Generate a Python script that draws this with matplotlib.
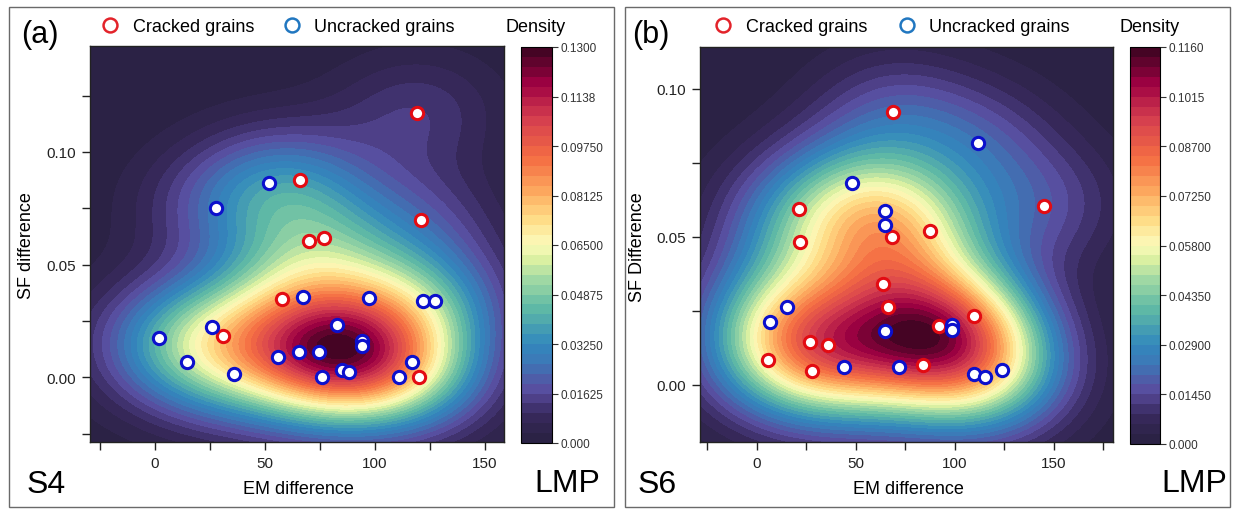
import numpy as np
import matplotlib
matplotlib.use("Agg")
import matplotlib.pyplot as plt
from matplotlib.colors import LinearSegmentedColormap
from matplotlib.lines import Line2D
from matplotlib.patches import Rectangle
from matplotlib.ticker import MultipleLocator

plt.rcParams['font.family'] = ['Liberation Sans', 'DejaVu Sans']

# ---------------- data ----------------
# Panel (a) S4
s4_cracked_em = [119.0, 65.9, 120.8, 69.9, 77.0, 57.7, 30.8, 119.9]
s4_cracked_sf = [0.1174, 0.0874, 0.0697, 0.0607, 0.0616, 0.0348, 0.0184, 0.0000]
s4_uncracked_em = [51.8, 27.7, 67.1, 97.1, 122.0, 127.3, 82.9, 25.9, 1.7, 94.0, 94.0,
                   65.6, 74.7, 55.8, 14.5, 116.8, 35.8, 85.0, 88.0, 76.0, 110.9]
s4_uncracked_sf = [0.0862, 0.0751, 0.0357, 0.0351, 0.0337, 0.0337, 0.0232, 0.0223, 0.0174,
                   0.0159, 0.0137, 0.0113, 0.0111, 0.0089, 0.0068, 0.0069, 0.0016, 0.0032,
                   0.0023, 0.0000, 0.0000]
s4_density_max = 0.13
s4_cbar_ticks = [0.0, 0.01625, 0.0325, 0.04875, 0.065, 0.08125, 0.0975, 0.11375, 0.13]
s4_cbar_labels = ["0.000", "0.01625", "0.03250", "0.04875", "0.06500", "0.08125",
                  "0.09750", "0.1138", "0.1300"]

# Panel (b) S6
s6_cracked_em = [68.8, 144.8, 21.4, 22.0, 87.4, 68.5, 63.6, 66.5, 109.6, 92.2, 26.9,
                 35.9, 5.7, 27.9, 84.0]
s6_cracked_sf = [0.0921, 0.0602, 0.0592, 0.0482, 0.0520, 0.0498, 0.0339, 0.0261, 0.0232,
                 0.0198, 0.0144, 0.0134, 0.0082, 0.0047, 0.0066]
s6_uncracked_em = [111.9, 48.1, 64.6, 64.6, 15.2, 6.9, 65.0, 98.8, 98.8, 44.1, 72.0,
                   109.6, 115.2, 123.7]
s6_uncracked_sf = [0.0815, 0.0682, 0.0588, 0.0538, 0.0262, 0.0213, 0.0181, 0.0203, 0.0186,
                   0.0060, 0.0060, 0.0035, 0.0025, 0.0051]
s6_density_max = 0.116
s6_cbar_ticks = [0.0, 0.0145, 0.029, 0.0435, 0.058, 0.0725, 0.087, 0.1015, 0.116]
s6_cbar_labels = ["0.000", "0.01450", "0.02900", "0.04350", "0.05800", "0.07250",
                  "0.08700", "0.1015", "0.1160"]

# ---------------- style ----------------
W, H = 1233, 510
fig = plt.figure(figsize=(W / 100, H / 100), dpi=100)

cmap = LinearSegmentedColormap.from_list("dens", [
    (0.00, "#292040"), (0.07, "#37295c"), (0.13, "#5a4b9e"), (0.21, "#3b7ab8"),
    (0.25, "#3288bd"), (0.34, "#5fb9a5"), (0.42, "#a6dba4"), (0.47, "#e3f3a2"),
    (0.50, "#fbfbbd"), (0.56, "#fee08b"), (0.63, "#fdae61"), (0.72, "#f46d43"),
    (0.82, "#d53e4f"), (0.91, "#9e0142"), (1.00, "#38051f")])

RED_PT, BLUE_PT = "#e30b12", "#0c10cc"
RED_LG, BLUE_LG = "#e3232a", "#2177c0"
BW_X, BW_Y = 1.35, 1.05


def px_rect(x0, y0, x1, y1):
    return [x0 / W, 1 - y1 / H, (x1 - x0) / W, (y1 - y0) / H]


def kde(xs, ys, gx, gy):
    xs = np.asarray(xs)
    ys = np.asarray(ys)
    n = len(xs)
    f = n ** (-1.0 / 6.0)
    hx = f * BW_X * xs.std(ddof=1)
    hy = f * BW_Y * ys.std(ddof=1)
    X, Y = np.meshgrid(gx, gy)
    dx = (X[..., None] - xs) / hx
    dy = (Y[..., None] - ys) / hy
    z = np.exp(-0.5 * (dx ** 2 + dy ** 2)).sum(axis=-1)
    return X, Y, z


def panel(frame, ax_rect, cax_rect, xlim, ylim, cem, csf, uem, usf, dmax, cticks, clabels,
          letter, sample, ylabel, letter_xy, sample_xy, lmp_xy, xlab_xy, ylab_xy,
          legend_xy, dens_xy, colspace):
    fig.patches.append(Rectangle((frame[0] / W, 1 - frame[3] / H),
                                 (frame[2] - frame[0]) / W, (frame[3] - frame[1]) / H,
                                 transform=fig.transFigure, fill=False,
                                 edgecolor="#6a6a6a", linewidth=1.0, zorder=0))
    ax = fig.add_axes(px_rect(*ax_rect))
    cax = fig.add_axes(px_rect(*cax_rect))

    allx = np.array(cem + uem)
    ally = np.array(csf + usf)
    gx = np.linspace(xlim[0], xlim[1], 300)
    gy = np.linspace(ylim[0], ylim[1], 300)
    X, Y, z = kde(allx, ally, gx, gy)
    z = z / z.max() * dmax * 0.999
    levels = np.linspace(0, dmax, 41)
    cf = ax.contourf(X, Y, z, levels=levels, cmap=cmap)

    ax.scatter(cem, csf, s=78, facecolor="white", edgecolor=RED_PT, linewidth=2.2, zorder=3)
    ax.scatter(uem, usf, s=78, facecolor="white", edgecolor=BLUE_PT, linewidth=2.2, zorder=3)

    ax.set_xlim(*xlim)
    ax.set_ylim(*ylim)
    ax.xaxis.set_major_locator(MultipleLocator(50))
    ax.xaxis.set_minor_locator(MultipleLocator(25))
    ax.yaxis.set_major_locator(MultipleLocator(0.05))
    ax.yaxis.set_minor_locator(MultipleLocator(0.025))
    ax.yaxis.set_major_formatter(matplotlib.ticker.FormatStrFormatter('%.2f'))
    ax.tick_params(which='both', direction='out', length=6, width=1.0, labelsize=11,
                   colors='#222222', pad=4)
    for sp in ax.spines.values():
        sp.set_linewidth(1.0)
        sp.set_color('#222222')

    cb = fig.colorbar(cf, cax=cax, ticks=cticks)
    cb.ax.set_yticklabels(clabels)
    cb.ax.tick_params(labelsize=8.5, length=4, width=0.8, colors='#333333', pad=2)
    cb.outline.set_linewidth(0.8)

    fig.text(letter_xy[0] / W, 1 - letter_xy[1] / H, letter, fontsize=22,
             ha='center', va='center')
    fig.text(sample_xy[0] / W, 1 - sample_xy[1] / H, sample, fontsize=23,
             ha='center', va='center')
    fig.text(lmp_xy[0] / W, 1 - lmp_xy[1] / H, "LMP", fontsize=23, ha='center', va='center')
    fig.text(xlab_xy[0] / W, 1 - xlab_xy[1] / H, "EM difference", fontsize=13,
             ha='center', va='center')
    fig.text(ylab_xy[0] / W, 1 - ylab_xy[1] / H, ylabel, fontsize=13, rotation=90,
             ha='center', va='center')
    fig.text(dens_xy[0] / W, 1 - dens_xy[1] / H, "Density", fontsize=13,
             ha='center', va='center')

    handles = [
        Line2D([], [], marker='o', ls='none', mfc='white', mec=RED_LG, mew=1.8, ms=10,
               label='Cracked grains'),
        Line2D([], [], marker='o', ls='none', mfc='white', mec=BLUE_LG, mew=1.8, ms=10,
               label='Uncracked grains'),
    ]
    fig.legend(handles=handles, loc='center left',
               bbox_to_anchor=(legend_xy[0] / W, 1 - legend_xy[1] / H),
               ncol=2, frameon=False, fontsize=13, handlelength=1.0,
               handletextpad=0.75, columnspacing=colspace, borderpad=0,
               borderaxespad=0)
    return ax


panel(frame=(9, 8, 614, 508), ax_rect=(90, 47, 504, 443), cax_rect=(521, 48, 552, 444),
      xlim=(-29.5, 158.6), ylim=(-0.0287, 0.147),
      cem=s4_cracked_em, csf=s4_cracked_sf, uem=s4_uncracked_em, usf=s4_uncracked_sf,
      dmax=s4_density_max, cticks=s4_cbar_ticks, clabels=s4_cbar_labels,
      letter="(a)", sample="S4", ylabel="SF difference",
      letter_xy=(40, 35), sample_xy=(46, 485), lmp_xy=(567, 484),
      xlab_xy=(298, 490), ylab_xy=(27, 246), legend_xy=(101, 28), dens_xy=(536, 27),
      colspace=1.6)

panel(frame=(625, 8, 1230, 508), ax_rect=(700, 48, 1113, 443), cax_rect=(1130, 48, 1160, 445),
      xlim=(-28.6, 179.8), ylim=(-0.0194, 0.1141),
      cem=s6_cracked_em, csf=s6_cracked_sf, uem=s6_uncracked_em, usf=s6_uncracked_sf,
      dmax=s6_density_max, cticks=s6_cbar_ticks, clabels=s6_cbar_labels,
      letter="(b)", sample="S6", ylabel="SF Difference",
      letter_xy=(651, 35), sample_xy=(657, 485), lmp_xy=(1194, 484),
      xlab_xy=(908, 490), ylab_xy=(637, 247), legend_xy=(714, 28), dens_xy=(1150, 27),
      colspace=1.7)

fig.savefig("out.png", dpi=100)
